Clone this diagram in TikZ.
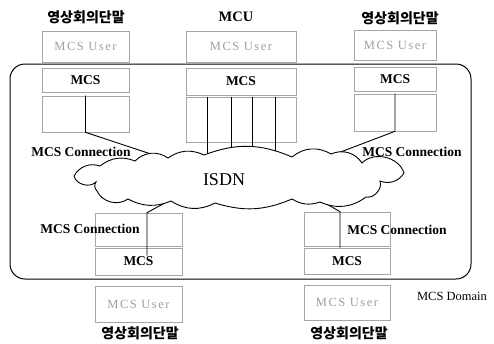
\documentclass[tikz,border=0pt]{standalone}
\usepackage{fontspec}
\setmainfont{Liberation Serif}
\newfontfamily\kr{Noto Sans CJK KR}
\usetikzlibrary{calc}

\begin{document}
\begin{tikzpicture}[x=1pt,y=-1pt,
    layer/.style={draw=gray!70, line width=0.6pt, inner sep=0pt},
    user/.style={layer, text=gray!75, font=\fontsize{12.5}{12.5}\selectfont\addfontfeature{LetterSpace=12}},
    mcs/.style={layer, font=\bfseries\fontsize{13.5}{13.5}\selectfont},
    term/.style={font=\kr\bfseries\fontsize{14}{14}\selectfont},
    conn/.style={font=\bfseries\fontsize{13.5}{13.5}\selectfont},
    wire/.style={line width=0.9pt}]
  \useasboundingbox (0,0) rectangle (494,343);

  % MCS domain
  \draw[line width=1pt, rounded corners=15pt] (10,64) rectangle (471,279);
  \node[font=\fontsize{12.5}{12.5}\selectfont] (domain) at (452,296) {MCS Domain};

  % upper left terminal
  \node[term] (termA) at (86,17) {영상회의단말};
  \node[user, minimum width=87, minimum height=31] (userA) at (85.5,46.5) {MCS User};
  \node[mcs, minimum width=87, minimum height=24] (mcsA) at (85.5,80) {MCS};
  \node[layer, minimum width=87, minimum height=36] (connA) at (85.5,114) {};
  \node[conn] (labA) at (81,152) {MCS Connection};

  % MCU
  \node[font=\bfseries\fontsize{14.5}{14.5}\selectfont] (mcu) at (236,17) {MCU};
  \node[user, minimum width=110, minimum height=31] (userM) at (241,46.5) {MCS User};
  \node[mcs, minimum width=110, minimum height=27] (mcsM) at (241,81.5) {MCS};
  \node[layer, minimum width=110, minimum height=45] (connM) at (241,119.5) {};

  % upper right terminal
  \node[term] (termB) at (400,18) {영상회의단말};
  \node[user, minimum width=82, minimum height=30] (userB) at (395,45) {MCS User};
  \node[mcs, minimum width=82, minimum height=24] (mcsB) at (395,79) {MCS};
  \node[layer, minimum width=82, minimum height=37] (connB) at (395,112.5) {};
  \node[conn] (labB) at (412,152) {MCS Connection};

  % lower left terminal
  \node[layer, minimum width=87, minimum height=33] (connC) at (138.5,229.5) {};
  \node[mcs, minimum width=87, minimum height=27] (mcsC) at (138.5,261.5) {MCS};
  \node[user, minimum width=87, minimum height=36] (userC) at (138.5,304) {MCS User};
  \node[term] (termC) at (140,333) {영상회의단말};
  \node[conn] (labC) at (90,229) {MCS Connection};

  % lower right terminal
  \node[layer, minimum width=86, minimum height=34] (connD) at (347,229) {};
  \node[mcs, minimum width=86, minimum height=26] (mcsD) at (347,261) {MCS};
  \node[user, minimum width=86, minimum height=35] (userD) at (347,302.5) {MCS User};
  \node[term] (termD) at (349,333) {영상회의단말};
  \node[conn] (labD) at (397,230) {MCS Connection};

  % connections into the network
  \coordinate (cA) at (169,160);
  \coordinate (cB) at (330,156);
  \coordinate (cC) at (172,199);
  \coordinate (cD) at (318,199);
  \draw[wire] (connA.north) -- (connA.south) -- (cA);
  \draw[wire] (connB.north) -- (connB.south) -- (cB);
  \draw[wire] ($(mcsC.north)+(8.5,8)$) -- ($(connC.north)+(8.5,0)$) -- (cC);
  \draw[wire] ($(mcsD.north)+(-7,0)$) -- ($(connD.north)+(-7,0)$) -- (cD);
  \foreach \dx in {-34,-10,11,34}
    \draw[wire] ($(connM.north)+(\dx,0)$) -- ++(0,62);

  % ISDN cloud
  \draw[wire, fill=white] (135,161) to[bend left=40] (168,158)
    to[bend left=30] (204,155) to[bend left=22] (292,157)
    to[bend left=35] (331,154) to[bend left=40] (362,163)
    to[bend left=60] (404,173) to[bend left=40] (380,181)
    to[bend left=60] (366,197) to[bend left=30] (320,202)
    to[bend left=25] (292,199) to[bend left=20] (215,203)
    to[bend left=30] (171,201) to[bend left=25] (128,199)
    to[bend left=50] (97,191) to[bend left=40] (96,182)
    to[bend left=60] (74,176) to[bend left=40] (100,166)
    to[bend left=30] cycle;
  \node[font=\fontsize{18}{18}\selectfont] (isdn) at (224,180) {ISDN};
\end{tikzpicture}
\end{document}
